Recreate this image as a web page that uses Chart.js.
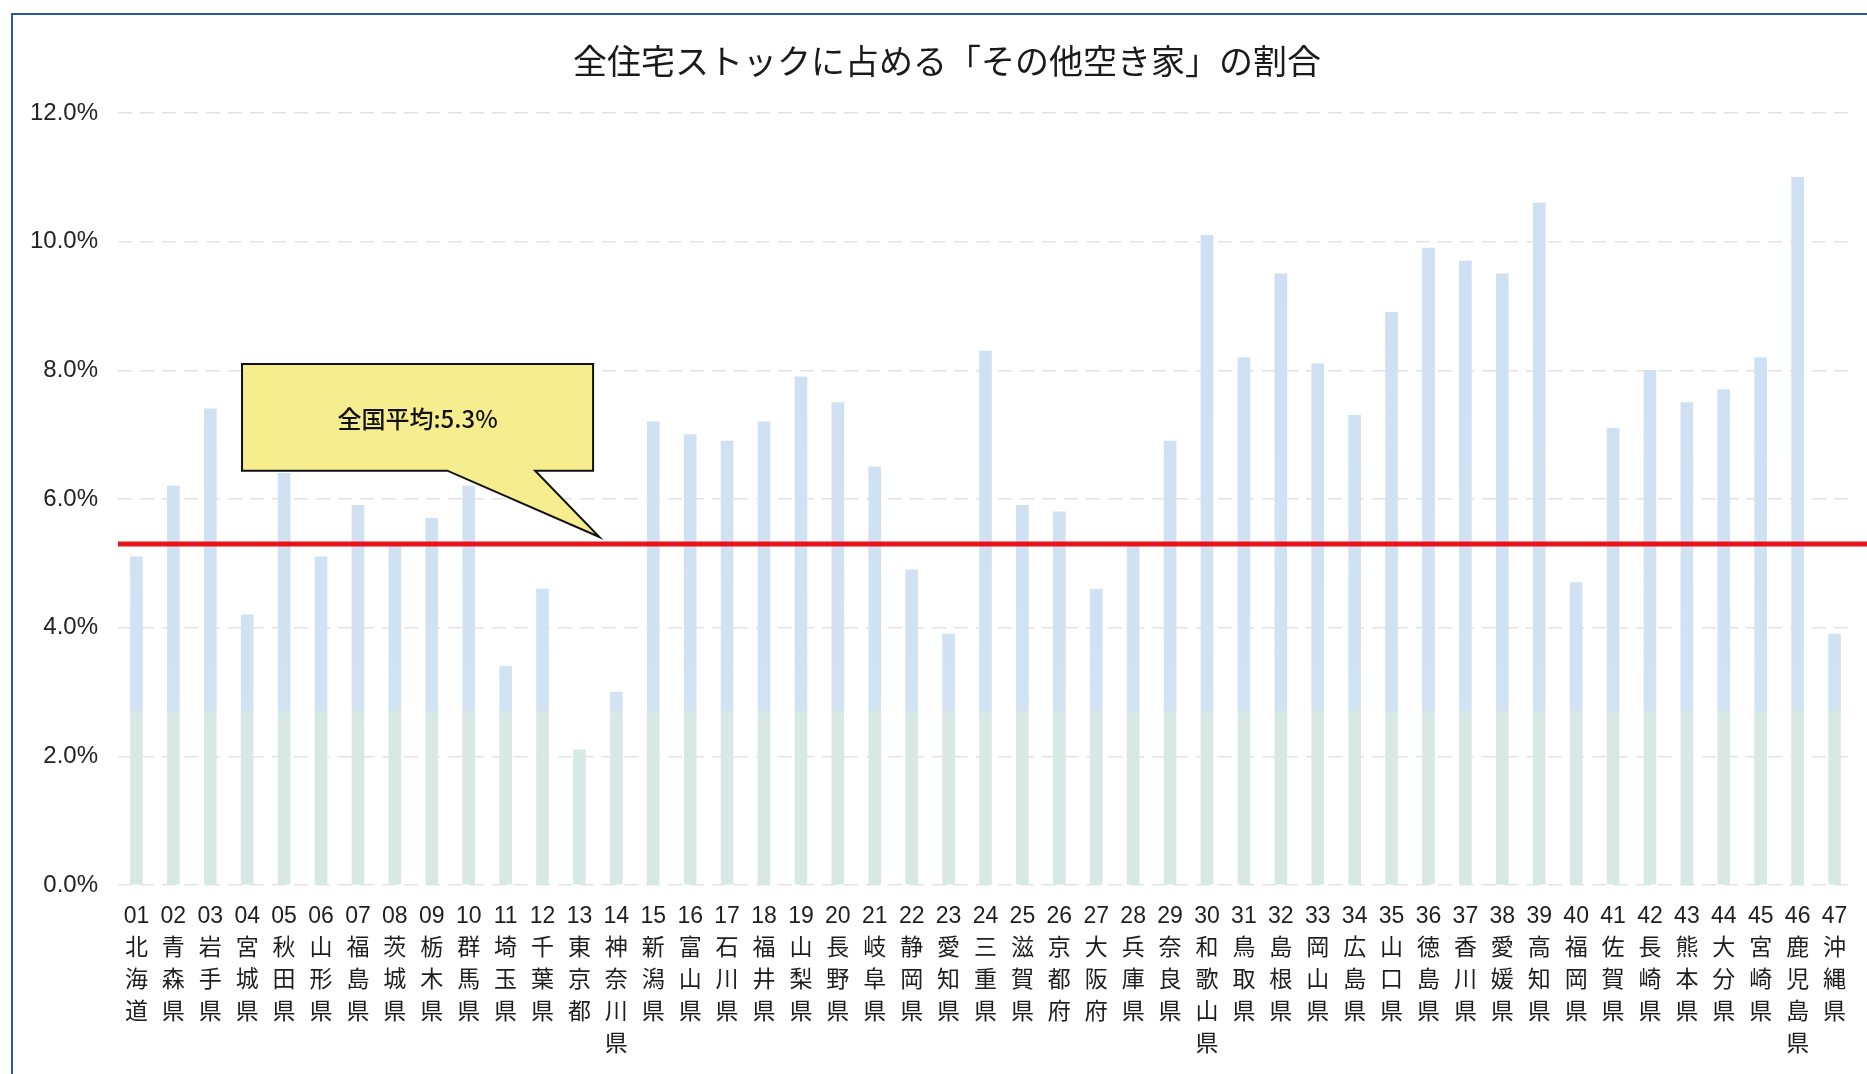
<!DOCTYPE html>
<html><head><meta charset="utf-8">
<script src="https://cdn.jsdelivr.net/npm/chart.js@4"></script>
<style>
html,body{margin:0;padding:0;background:#fff;overflow:hidden}
#wrap{position:relative;width:1867px;height:1074px;background:#fff}
#frame{position:absolute;left:11px;top:13px;width:1900px;height:1100px;border-top:2px solid #2b55a6;border-left:2px solid #2b55a6;box-sizing:border-box}
canvas{position:absolute;left:0;top:0}
</style></head><body>
<div id="wrap"><div id="frame"></div><canvas id="c" width="1867" height="1074"></canvas></div>
<script>
const codes = ['01','02','03','04','05','06','07','08','09','10','11','12','13','14','15','16','17','18','19','20','21','22','23','24','25','26','27','28','29','30','31','32','33','34','35','36','37','38','39','40','41','42','43','44','45','46','47'];
const names = ['北海道','青森県','岩手県','宮城県','秋田県','山形県','福島県','茨城県','栃木県','群馬県','埼玉県','千葉県','東京都','神奈川県','新潟県','富山県','石川県','福井県','山梨県','長野県','岐阜県','静岡県','愛知県','三重県','滋賀県','京都府','大阪府','兵庫県','奈良県','和歌山県','鳥取県','島根県','岡山県','広島県','山口県','徳島県','香川県','愛媛県','高知県','福岡県','佐賀県','長崎県','熊本県','大分県','宮崎県','鹿児島県','沖縄県'];
const shares = [5.1, 6.2, 7.4, 4.2, 6.4, 5.1, 5.9, 5.3, 5.7, 6.2, 3.4, 4.6, 2.1, 3.0, 7.2, 7.0, 6.9, 7.2, 7.9, 7.5, 6.5, 4.9, 3.9, 8.3, 5.9, 5.8, 4.6, 5.3, 6.9, 10.1, 8.2, 9.5, 8.1, 7.3, 8.9, 9.9, 9.7, 9.5, 10.6, 4.7, 7.1, 8.0, 7.5, 7.7, 8.2, 11.0, 3.9];
const nationalAverage = 5.3;
const yTickLabels = ['0.0%','2.0%','4.0%','6.0%','8.0%','10.0%','12.0%'];
const titleText = '全住宅ストックに占める「その他空き家」の割合';
const calloutText = '全国平均:5.3%';

const labels = codes.map((c, i) => [c, ...Array.from(names[i])]);

const callout = { left: 2.86, right: 12.37, top: 8.10, bottom: 6.44, baseL: 8.42, baseR: 10.80, tipX: 12.54, tipY: 5.41 };

const titlePlugin = {
  id: 'titlePlugin',
  afterDraw(chart) {
    const ctx = chart.ctx;
    ctx.save();
    ctx.font = "34px 'Noto Sans CJK JP', sans-serif";
    ctx.fillStyle = '#1a1a1a';
    ctx.textAlign = 'center';
    ctx.textBaseline = 'middle';
    ctx.fillText(titleText, 947, 61);
    ctx.restore();
  }
};

const avgLine = {
  id: 'avgLine',
  afterDatasetsDraw(chart) {
    const { ctx, chartArea, scales: { x, y } } = chart;
    const py = y.getPixelForValue(nationalAverage);
    ctx.save();
    ctx.strokeStyle = '#e8141c';
    ctx.lineWidth = 5;
    ctx.beginPath();
    ctx.moveTo(chartArea.left, py);
    ctx.lineTo(chart.width, py);
    ctx.stroke();
    // callout
    const L = x.getPixelForValue(callout.left), R = x.getPixelForValue(callout.right);
    const T = y.getPixelForValue(callout.top), B = y.getPixelForValue(callout.bottom);
    const bl = x.getPixelForValue(callout.baseL), br = x.getPixelForValue(callout.baseR);
    const tx = x.getPixelForValue(callout.tipX), ty = y.getPixelForValue(callout.tipY);
    ctx.beginPath();
    ctx.moveTo(L, T); ctx.lineTo(R, T); ctx.lineTo(R, B); ctx.lineTo(br, B);
    ctx.lineTo(tx, ty); ctx.lineTo(bl, B); ctx.lineTo(L, B); ctx.closePath();
    ctx.fillStyle = '#f6ee8e';
    ctx.fill();
    ctx.strokeStyle = '#111';
    ctx.lineWidth = 2;
    ctx.lineJoin = 'miter';
    ctx.stroke();
    ctx.fillStyle = '#111';
    ctx.font = "500 24px 'Noto Sans CJK JP', sans-serif";
    ctx.textAlign = 'center';
    ctx.textBaseline = 'middle';
    ctx.fillText(calloutText, (L + R) / 2, (T + B) / 2 + 2);
    ctx.restore();
  }
};

function barFill(context) {
  const chart = context.chart;
  const y = chart.scales.y;
  if (!chart.chartArea || !y) return '#d2e3f2';
  const y0 = y.getPixelForValue(0), y1 = y.getPixelForValue(12);
  const f = 2.7 / 12;
  const g = chart.ctx.createLinearGradient(0, y0, 0, y1);
  g.addColorStop(0, '#d8e9e5');
  g.addColorStop(f, '#d8e9e5');
  g.addColorStop(f, '#d1e2f2');
  g.addColorStop(1, '#cddff2');
  return g;
}

new Chart(document.getElementById('c'), {
  type: 'bar',
  data: {
    labels: labels,
    datasets: [{ data: shares, backgroundColor: barFill, borderWidth: 0, barThickness: 12 }]
  },
  options: {
    responsive: false,
    animation: false,
    devicePixelRatio: 1,
    layout: { padding: { top: 113, right: 14, left: 0, bottom: 0 } },
    plugins: { legend: { display: false }, tooltip: { enabled: false }, title: { display: false } },
    scales: {
      x: {
        grid: { display: false, drawTicks: false },
        border: { display: false },
        ticks: {
          autoSkip: false, maxRotation: 0, minRotation: 0, padding: 16,
          color: '#1e1e1e',
          font: { family: "'Liberation Sans', 'Noto Sans CJK JP', sans-serif", size: 23, lineHeight: 32 / 23 }
        },
        afterFit(scale) { scale.height = 189; }
      },
      y: {
        min: 0, max: 12,
        grid: { color: 'rgba(190,190,190,0.45)', lineWidth: 1.5, drawTicks: false },
        border: { display: false, dash: [14, 8] },
        ticks: {
          stepSize: 2, padding: 20, color: '#222',
          font: { family: "'Liberation Sans', Arial, sans-serif", size: 24 },
          callback: (v) => yTickLabels[Math.round(v / 2)]
        },
        afterFit(scale) { scale.width = 118; }
      }
    }
  },
  plugins: [avgLine, titlePlugin]
});
</script>
</body></html>
